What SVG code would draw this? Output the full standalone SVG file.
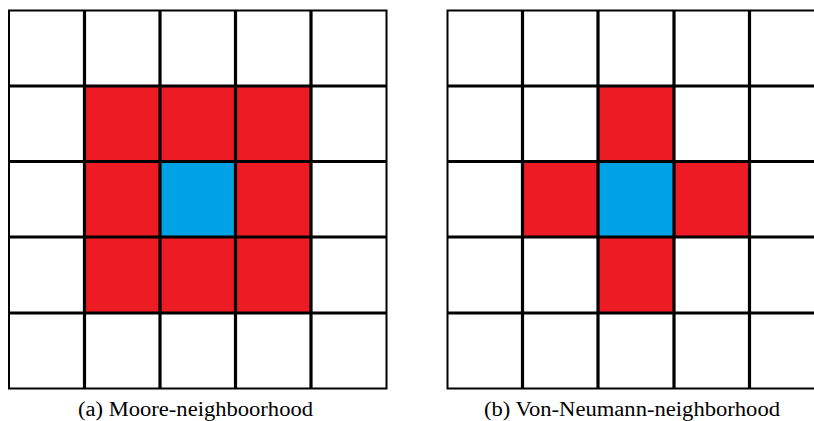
<svg xmlns="http://www.w3.org/2000/svg" width="814" height="421" viewBox="0 0 814 421">
<style>
.bg{fill:#ffffff}
.red{fill:#ED1C24}
.blue{fill:#00A2E6}
.inner{stroke:#000;stroke-width:3.2;fill:none}
.outer{stroke:#000;stroke-width:2;fill:none}
.cap{font-family:"Liberation Serif","DejaVu Serif",serif;font-size:20px;fill:#000;text-anchor:middle}
</style>
<rect width="814" height="421" fill="#fff"/>
<g id="moore">
  <rect class="red" x="84.5" y="86" width="226.5" height="227"/>
  <rect class="blue" x="160" y="161.5" width="75.5" height="75.5"/>
  <rect class="outer" x="9" y="10.5" width="377.5" height="378"/>
  <path class="inner" d="M84.5 10.5V388.5M160 10.5V388.5M235.5 10.5V388.5M311 10.5V388.5M9 86H386.5M9 161.5H386.5M9 237H386.5M9 313H386.5"/>
  <text class="cap" x="195.5" y="416" textLength="235" lengthAdjust="spacingAndGlyphs">(a) Moore-neighboorhood</text>
</g>
<g id="vonneumann">
  <rect class="red" x="598" y="86" width="76" height="227"/>
  <rect class="red" x="522.5" y="161.5" width="227" height="75.5"/>
  <rect class="blue" x="598" y="161.5" width="76" height="75.5"/>
  <rect class="outer" x="447.5" y="10.5" width="377.5" height="378"/>
  <path class="inner" d="M522.5 10.5V388.5M598 10.5V388.5M674 10.5V388.5M749.5 10.5V388.5M447.5 86H825M447.5 161.5H825M447.5 237H825M447.5 313H825"/>
  <text class="cap" x="632" y="416" textLength="296" lengthAdjust="spacingAndGlyphs">(b) Von-Neumann-neighborhood</text>
</g>
</svg>
